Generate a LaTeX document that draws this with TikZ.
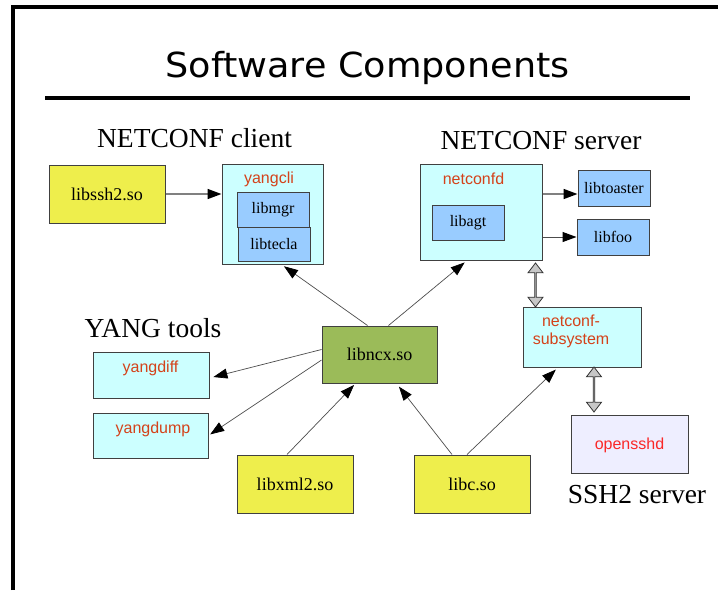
\documentclass[tikz,border=0pt]{standalone}
\usepackage{fontspec}
\setmainfont{Liberation Serif}
\setsansfont{Liberation Sans}
\newfontfamily\titlefont[FakeStretch=1.06]{DejaVu Sans}
\usetikzlibrary{arrows.meta,shapes.arrows}

\definecolor{libyellow}{RGB}{238,238,76}
\definecolor{pkgcyan}{RGB}{204,255,255}
\definecolor{modblue}{RGB}{153,204,255}
\definecolor{ncxgreen}{RGB}{155,187,89}
\definecolor{sshlilac}{RGB}{238,238,255}
\definecolor{pkgred}{RGB}{212,66,26}
\definecolor{sshred}{RGB}{250,40,40}

\tikzset{
	box/.style={draw=black!75,line width=1pt,inner sep=0pt},
	solib/.style={box,fill=libyellow,minimum width=116pt,minimum height=58pt,font=\fontsize{18}{20}\selectfont},
	pkg/.style={box,fill=pkgcyan},
	mod/.style={box,fill=modblue,minimum width=72pt,minimum height=35pt,font=\fontsize{16}{18}\selectfont},
	pkgname/.style={inner sep=0pt,anchor=base,text=pkgred,font=\sffamily\fontsize{16}{18}\selectfont},
	group/.style={inner sep=0pt,anchor=base,font=\fontsize{27.5}{30}\selectfont},
	arr/.style={draw=black!70,line width=0.7pt,-{Triangle[length=14pt,width=10pt,color=black]}},
	thickarr/.style={arr,draw=black!50,line width=1.6pt},
	link/.style={draw=black!80,fill=black!22,line width=0.8pt,shape=double arrow,rotate=90,inner sep=0pt,
		minimum width=15pt,double arrow head extend=3.5pt,double arrow tip angle=75}
}

\begin{document}
\begin{tikzpicture}[x=1pt,y=-1pt]
	\useasboundingbox (0,0) rectangle (718,590);
	\draw[line width=4pt] (13,590) -- (13,7) -- (718,7);
	\node[inner sep=0pt,anchor=base,font=\titlefont\fontsize{34.5}{38}\selectfont] (title) at (367.5,77) {Software Components};
	\draw[line width=4pt] (45,98) -- (690,98);

	% group headings
	\node[group] (client) at (194.5,147) {NETCONF client};
	\node[group] (server) at (541,149) {NETCONF server};
	\node[group] (tools) at (153,337) {YANG tools};
	\node[group] (sshsrv) at (637,503) {SSH2 server};

	% client side
	\node[solib] (libssh) at (107,194) {libssh2.so};
	\node[pkg,minimum width=101pt,minimum height=100pt] (yangcli) at (272.5,214) {};
	\node[pkgname] (yangcliname) at (269,183) {yangcli};
	\node[mod] (libmgr) at (273,210) {libmgr};
	\node[mod,minimum height=34pt] (libtecla) at (274,244) {libtecla};

	% server side
	\node[pkg,minimum width=122pt,minimum height=96pt] (netconfd) at (481,212) {};
	\node[pkgname] (netconfdname) at (473.5,184) {netconfd};
	\node[mod] (libagt) at (468,222.5) {libagt};
	\node[mod,minimum height=36pt] (libtoaster) at (614,188) {libtoaster};
	\node[mod,minimum height=36pt] (libfoo) at (613,237) {libfoo};
	\node[pkg,minimum width=118pt,minimum height=60pt] (subsys) at (582,337) {};
	\node[inner sep=0pt,anchor=north,align=center,text=pkgred,font=\sffamily\fontsize{16}{18}\selectfont] (subsysname) at (571,315) {netconf-\\subsystem};
	\node[box,fill=sshlilac,minimum width=117pt,minimum height=58pt] (opensshd) at (629.5,444) {};
	\node[pkgname,text=sshred] (opensshdname) at (629.5,449) {opensshd};
	\node[link,minimum height=44pt] (link1) at (535.5,285) {};
	\node[link,minimum height=45pt] (link2) at (594,389.5) {};

	% core library and tools
	\node[solib,fill=ncxgreen,minimum width=115pt,minimum height=57pt] (libncx) at (379.5,354.5) {libncx.so};
	\node[pkg,minimum width=116pt,minimum height=46pt] (yangdiff) at (151,375) {};
	\node[pkgname] (yangdiffname) at (150.5,372) {yangdiff};
	\node[pkg,minimum width=115pt,minimum height=45pt] (yangdump) at (150.5,435.5) {};
	\node[pkgname] (yangdumpname) at (153,433) {yangdump};
	\node[solib] (libxml) at (295,484) {libxml2.so};
	\node[solib] (libc) at (472,484) {libc.so};

	\draw[thickarr] (libssh.east) -- (libssh.east -| yangcli.west);
	\draw[thickarr] ([yshift=-6pt]libtoaster.west -| netconfd.east) -- ([yshift=-6pt]libtoaster.west);
	\draw[arr,line width=1pt] (libfoo.west -| netconfd.east) -- (libfoo.west);
	\draw[arr,shorten >=3pt] ([xshift=-12pt]libncx.north) -- ([xshift=9pt]yangcli.south);
	\draw[arr,shorten >=3pt] ([xshift=9pt]libncx.north) -- ([xshift=-14pt]netconfd.south);
	\draw[arr,shorten >=4pt] ([yshift=5pt]libncx.west) -- ([yshift=-3pt]yangdiff.east);
	\draw[arr,shorten >=2pt] ([yshift=-5.5pt]libncx.west) -- (yangdump.east);
	\draw[arr,shorten >=2pt] ([xshift=-8pt]libxml.north) -- ([xshift=-24pt]libncx.south);
	\draw[arr,shorten >=4pt] ([xshift=-20pt]libc.north) -- ([xshift=17pt]libncx.south);
	\draw[arr,shorten >=3pt] ([xshift=-5pt]libc.north) -- ([xshift=-24pt]subsys.south);
\end{tikzpicture}
\end{document}
